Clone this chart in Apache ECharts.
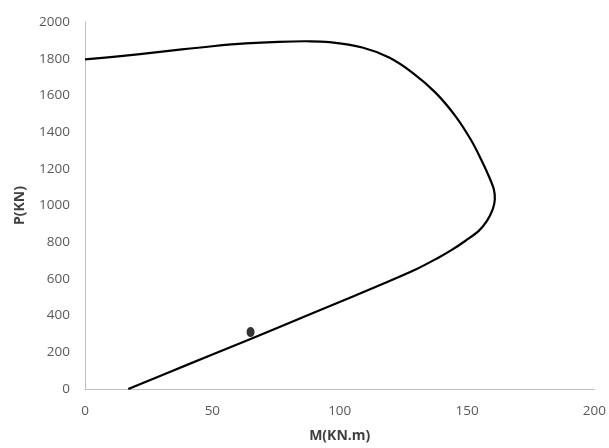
<!DOCTYPE html>
<html>
<head>
<meta charset="utf-8">
<script src="https://cdn.jsdelivr.net/npm/echarts@6/dist/echarts.min.js"></script>
<style>
html,body{margin:0;padding:0;background:#fff;}
#chart{width:609px;height:448px;}
</style>
</head>
<body>
<div id="chart"></div>
<script>
'use strict';

// interaction curve, M (KN.m) / P (KN)
var curveM=[0,12,25,38,50,63,76,87,96,108.9,119.4,128.5,137.6,145.5,151.5,155.9,158.5,160.5,160.9,160.1,157.8,154.6,149.4,144,138.9,129.8,117,104,90,65,41,17];
var curveP=[1796,1811,1830,1851,1868,1883,1892,1895,1890,1861,1806,1724,1615,1486,1358,1240,1161,1089,1034,980,916,862,808,758,717,651,573,497,417,272,137,0];
// single load point
var pointM=[65];
var pointP=[310];

var xTicks={min:0,max:200,interval:50};
var yTicks={min:0,max:2000,interval:200};

var FONT='"Open Sans", "Liberation Sans", sans-serif';

var chart=echarts.init(document.getElementById('chart'));

function $extend(base,extra){
    var out={};
    for(var k in base){out[k]=base[k];}
    for(var j in extra){out[j]=extra[j];}
    return out;
}

/**
 * 曲线：数据点经坐标轴换算后用 Catmull-Rom 样条连成平滑路径
 */
function renderCurve(params,api){
    if(params.dataIndex!==0){return;}
    var pts=curveM.map(function(m,i){return api.coord([m,curveP[i]]);});
    var d='M'+pts[0][0]+' '+pts[0][1];
    for(var i=0;i<pts.length-1;i++){
        var p0=pts[i-1]||pts[i],p1=pts[i],p2=pts[i+1],p3=pts[i+2]||pts[i+1];
        var c1x=p1[0]+(p2[0]-p0[0])/6,c1y=p1[1]+(p2[1]-p0[1])/6;
        var c2x=p2[0]-(p3[0]-p1[0])/6,c2y=p2[1]-(p3[1]-p1[1])/6;
        d+=' C'+c1x+' '+c1y+' '+c2x+' '+c2y+' '+p2[0]+' '+p2[1];
    }
    return {
        type:'path',
        shape:{pathData:d},
        style:{stroke:'#000',fill:null,lineWidth:2.2}
    };
}

var axisCommon={
    axisLine:{show:true,lineStyle:{color:'#bfbfbf',width:1}},
    axisTick:{show:false},
    splitLine:{show:false},
    nameTextStyle:{color:'#404040',fontSize:14,fontWeight:'bold',fontFamily:FONT}
};
var labelStyle={color:'#595959',fontSize:13.5,fontFamily:FONT,margin:15,formatter:function(v){return String(v);}};

chart.setOption({
    animation:false,
    grid:{left:85,right:13,top:22,bottom:58},
    xAxis:$extend(axisCommon,{
        type:'value',min:xTicks.min,max:xTicks.max,interval:xTicks.interval,
        name:'M(KN.m)',nameLocation:'middle',nameGap:40,
        axisLabel:labelStyle
    }),
    yAxis:$extend(axisCommon,{
        type:'value',min:yTicks.min,max:yTicks.max,interval:yTicks.interval,
        name:'P(KN)',nameLocation:'middle',nameGap:58,
        axisLabel:labelStyle
    }),
    series:[{
        type:'custom',
        renderItem:renderCurve,
        data:curveM.map(function(m,i){return [m,curveP[i]];}),
        encode:{x:0,y:1}
    },{
        type:'scatter',
        data:pointM.map(function(m,i){return [m,pointP[i]];}),
        symbol:'circle',
        symbolSize:[8,10],
        itemStyle:{color:'#000'}
    }]
});
</script>
</body>
</html>
